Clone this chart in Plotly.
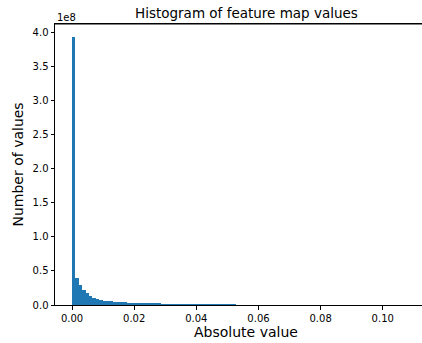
import plotly.graph_objects as go

# Histogram data: 100 equal bins from 0 to max_value
min_value = 0.0
max_value = 0.1097
n_bins = 100
# counts per bin, in units of 1e8
counts_1e8 = [
    3.93, 0.40, 0.295, 0.22, 0.178, 0.135, 0.108, 0.090, 0.075, 0.064,
    0.058, 0.053, 0.047, 0.044, 0.041, 0.039, 0.036, 0.032, 0.030, 0.029,
    0.028, 0.027, 0.026, 0.025, 0.024, 0.023, 0.022, 0.021, 0.020, 0.018,
    0.017, 0.016, 0.016, 0.015, 0.015, 0.014, 0.013, 0.013, 0.012, 0.011,
    0.011, 0.010, 0.010, 0.009, 0.009, 0.009, 0.008, 0.008, 0.007, 0.006,
    0.006, 0.005, 0.005, 0.005, 0.004, 0.004, 0.004, 0.004, 0.003, 0.003,
    0.003, 0.003, 0.003, 0.003, 0.002, 0.002, 0.002, 0.002, 0.002, 0.002,
    0.002, 0.002, 0.002, 0.0015, 0.0015, 0.0015, 0.0015, 0.0015, 0.0015, 0.0015,
    0.001, 0.001, 0.001, 0.001, 0.001, 0.001, 0.001, 0.001, 0.001, 0.001,
    0.001, 0.001, 0.001, 0.001, 0.001, 0.001, 0.001, 0.001, 0.001, 0.001,
]
y_ticks = [0.0, 0.5, 1.0, 1.5, 2.0, 2.5, 3.0, 3.5, 4.0]
x_ticks = [0.00, 0.02, 0.04, 0.06, 0.08, 0.10]

bin_w = (max_value - min_value) / n_bins
centers = [min_value + (i + 0.5) * bin_w for i in range(n_bins)]
counts = [c * 1e8 for c in counts_1e8]

font = "DejaVu Sans, Liberation Sans, sans-serif"

fig = go.Figure(go.Bar(
    x=centers, y=counts, width=[bin_w] * n_bins,
    marker=dict(color="#1f77b4", line=dict(width=0)),
))

W, H = 422, 343
L, R, T, B = 55, 0, 24, 38
span = max_value - min_value
xr = [min_value - 0.05 * span, (W - 71.7) / 3110]
pw = W - L - R
ph = H - T - B

fig.update_layout(
    width=W, height=H,
    margin=dict(l=L, r=R, t=T, b=B, autoexpand=False),
    plot_bgcolor="white", paper_bgcolor="white",
    showlegend=False, bargap=0,
    font=dict(family=font, size=10, color="black"),
    xaxis=dict(
        range=xr, tickvals=x_ticks, ticktext=[f"{v:.2f}" for v in x_ticks],
        showgrid=False, zeroline=False, showline=True, linecolor="black", linewidth=1,
        mirror=True, ticks="outside", ticklen=3.5, tickcolor="black", tickwidth=1,
        automargin=False,
    ),
    yaxis=dict(
        range=[0, max(counts) * 1.05], tickvals=[v * 1e8 for v in y_ticks],
        ticktext=[f"{v:.1f}" for v in y_ticks],
        showgrid=False, zeroline=False, showline=True, linecolor="black", linewidth=1,
        ticks="outside", ticklen=3.5, tickcolor="black", tickwidth=1,
        automargin=False,
    ),
    shapes=[
        dict(type="line", xref="paper", yref="paper", x0=0, x1=1, y0=1, y1=1,
             line=dict(color="black", width=1)),
    ],
    annotations=[
        dict(text="Histogram of feature map values", xref="paper", yref="paper",
             x=(246 - L) / pw, y=1, xanchor="center", yanchor="bottom",
             yshift=1, showarrow=False, font=dict(size=13.5)),
        dict(text="1e8", xref="paper", yref="paper", x=0, y=1, xanchor="left",
             yanchor="bottom", showarrow=False, font=dict(size=10), yshift=-1),
        dict(text="Absolute value", xref="paper", yref="paper",
             x=(246 - L) / pw, y=0, xanchor="center", yanchor="top",
             yshift=-(322 - 305), showarrow=False, font=dict(size=14)),
        dict(text="Number of values", xref="paper", yref="paper",
             x=0, y=0.5, xanchor="right", yanchor="middle", textangle=-90,
             xshift=-(55 - 27), showarrow=False, font=dict(size=14)),
    ],
)

fig.write_html(
    "out.html",
    config={"displayModeBar": False, "staticPlot": True},
    post_script="document.body.style.margin='0';document.body.style.overflow='hidden';",
)
